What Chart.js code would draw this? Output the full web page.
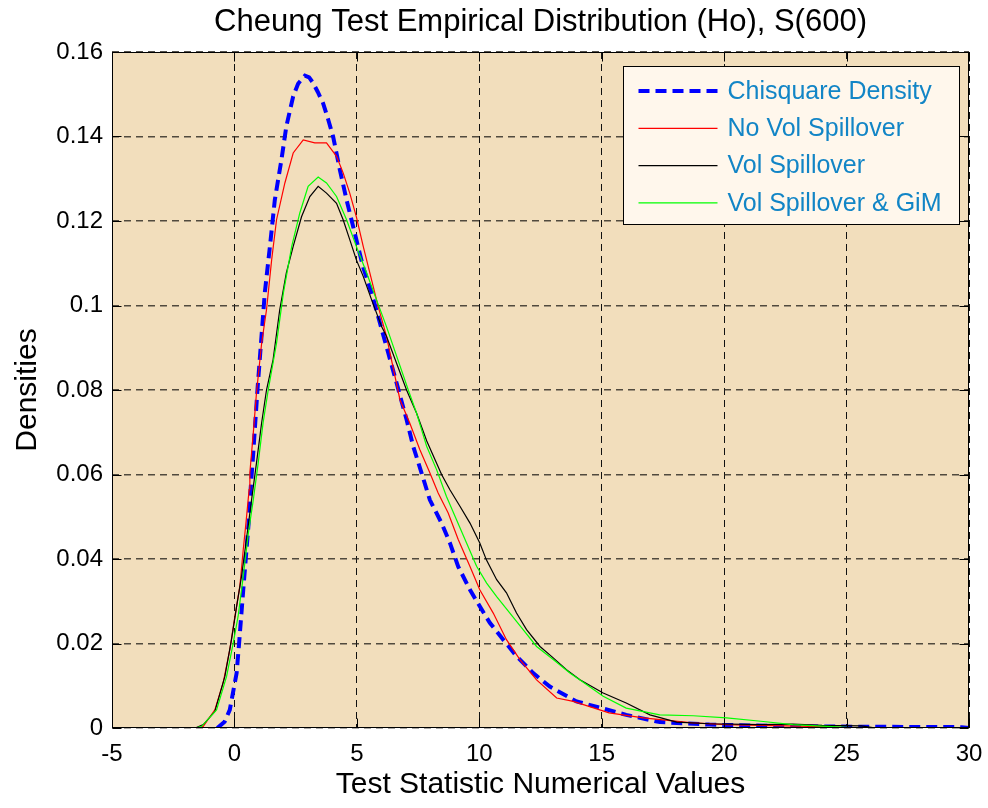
<!DOCTYPE html>
<html>
<head>
<meta charset="utf-8">
<title>Cheung Test Empirical Distribution</title>
<script src="https://cdn.jsdelivr.net/npm/chart.js@4.4.1/dist/chart.umd.min.js"></script>
<style>
  html, body { margin: 0; padding: 0; background: #fff; }
  #wrap { width: 988px; height: 808px; }
</style>
</head>
<body>
<div id="wrap"><canvas id="densityChart" width="988" height="808"></canvas></div>
<script>
// axis ticks
const xTicks = [-5, 0, 5, 10, 15, 20, 25, 30];
const yTicks = [0, 0.02, 0.04, 0.06, 0.08, 0.1, 0.12, 0.14, 0.16];

const seriesLabels = ['Chisquare Density', 'No Vol Spillover', 'Vol Spillover', 'Vol Spillover & GiM'];

// chi-square reference density
const chiX = [-0.7, -0.4, -0.19, 0.09, 0.19, 0.36, 0.49, 0.58, 0.66, 0.76, 0.85, 0.94, 1.24, 1.45, 1.65, 1.92, 2.12, 2.4, 2.6, 2.88, 3.05, 3.21, 3.4, 3.62, 3.82, 4.03, 4.31, 4.58, 4.92, 5.26, 5.6, 5.94, 6.28, 6.62, 7.03, 7.3, 7.64, 7.98, 8.46, 8.8, 9.14, 9.62, 10.02, 10.43, 10.98, 11.52, 12.2, 12.88, 13.97, 15.0, 16.0, 17.37, 19.4, 22.8, 26.0, 29.7, 30.0];
const chiY = [0, 0.0015, 0.0043, 0.013, 0.02, 0.0327, 0.042, 0.0485, 0.0564, 0.0643, 0.0722, 0.08, 0.103, 0.114, 0.125, 0.1345, 0.1424, 0.1495, 0.1525, 0.1544, 0.154, 0.1527, 0.1506, 0.1479, 0.1442, 0.14, 0.132, 0.125, 0.117, 0.109, 0.103, 0.0959, 0.0888, 0.0817, 0.073, 0.0667, 0.0604, 0.054, 0.0485, 0.0438, 0.0382, 0.0327, 0.0288, 0.0249, 0.0209, 0.017, 0.013, 0.0098, 0.0063, 0.0047, 0.0031, 0.0014, 0.0008, 0.0004, 0.0003, 0.0002, 0];

// no volatility spillover
const noSpillX = [-1.4, -1.27, -0.8, -0.46, -0.19, 0.02, 0.22, 0.36, 0.47, 0.6, 0.63, 0.77, 0.9, 1.11, 1.31, 1.52, 1.72, 2.06, 2.4, 2.81, 3.28, 3.76, 4.17, 4.44, 4.71, 4.98, 5.26, 5.53, 5.87, 6.21, 6.76, 7.16, 7.57, 7.98, 8.32, 8.73, 9.14, 9.62, 10.02, 10.57, 11.11, 11.66, 12.34, 13.16, 13.84, 15.3, 16.7, 18.7, 20.1, 21.5, 23.5, 25.5];
const noSpillY = [0, 0.0004, 0.0043, 0.0107, 0.0185, 0.0264, 0.0335, 0.0422, 0.0485, 0.0564, 0.0604, 0.0698, 0.0793, 0.091, 0.099, 0.1108, 0.1203, 0.129, 0.1361, 0.1392, 0.1385, 0.1385, 0.1353, 0.1314, 0.1266, 0.121, 0.114, 0.1077, 0.0998, 0.0927, 0.0777, 0.0722, 0.0659, 0.0604, 0.0556, 0.0509, 0.0446, 0.0382, 0.0327, 0.0272, 0.0209, 0.0162, 0.0114, 0.0071, 0.0063, 0.0036, 0.0024, 0.0012, 0.0008, 0.0006, 0.0004, 0];

// volatility spillover
const spillX = [-1.6, -1.27, -0.8, -0.39, -0.12, 0.09, 0.29, 0.49, 0.7, 0.9, 1.11, 1.31, 1.58, 1.85, 2.12, 2.4, 2.74, 3.08, 3.42, 3.76, 4.17, 4.44, 4.71, 4.98, 5.26, 5.6, 6.01, 6.21, 7.03, 7.44, 7.85, 8.46, 8.8, 9.21, 9.62, 10.02, 10.29, 10.71, 11.11, 11.52, 11.93, 12.48, 13.02, 13.56, 14.11, 15.06, 16.0, 16.97, 18.06, 19.4, 21.5, 22.8, 24.0, 25.6, 26.2];
const spillY = [0, 0.0008, 0.0039, 0.0122, 0.0209, 0.0288, 0.0359, 0.0446, 0.054, 0.0627, 0.0722, 0.08, 0.0872, 0.099, 0.1077, 0.114, 0.121, 0.1258, 0.1282, 0.1266, 0.1242, 0.1203, 0.1156, 0.1108, 0.1069, 0.1014, 0.095, 0.0927, 0.08, 0.0745, 0.068, 0.06, 0.0564, 0.0525, 0.0485, 0.0438, 0.0398, 0.0351, 0.032, 0.0272, 0.0233, 0.0193, 0.0166, 0.0138, 0.0114, 0.0083, 0.0059, 0.0031, 0.0014, 0.001, 0.0008, 0.0009, 0.0006, 0.0005, 0];

// volatility spillover & GiM
const gimX = [-1.6, -1.34, -0.73, -0.32, -0.05, 0.15, 0.36, 0.57, 0.77, 0.97, 1.17, 1.38, 1.72, 2.0, 2.34, 2.67, 3.01, 3.42, 3.76, 4.17, 4.58, 4.98, 5.4, 5.8, 6.21, 7.1, 7.44, 7.85, 8.26, 8.66, 9.07, 9.48, 9.89, 10.3, 10.71, 11.25, 11.79, 12.34, 13.02, 13.7, 14.1, 15.06, 16.0, 17.37, 18.74, 20.1, 21.5, 22.8, 24.8, 25.5];
const gimY = [0, 0.0004, 0.0043, 0.0122, 0.0201, 0.0264, 0.0359, 0.0462, 0.054, 0.0627, 0.0722, 0.08, 0.0911, 0.103, 0.114, 0.1219, 0.1282, 0.1304, 0.129, 0.1258, 0.1203, 0.114, 0.1077, 0.1014, 0.095, 0.08, 0.0745, 0.0667, 0.0611, 0.0548, 0.0493, 0.0438, 0.0383, 0.0343, 0.0311, 0.0272, 0.0233, 0.0193, 0.0162, 0.013, 0.0114, 0.0075, 0.0047, 0.0031, 0.0029, 0.0024, 0.0016, 0.0008, 0.0002, 0];

const pts = (xs, ys) => xs.map((x, i) => ({ x: x, y: ys[i] }));
const FONT = "'Liberation Sans', Arial, Helvetica, sans-serif";

// plot background, inner tick marks, frame and boxed legend
const framePlugin = {
  id: 'framePlugin',
  beforeDraw(chart) {
    const { ctx, chartArea: a } = chart;
    ctx.save();
    ctx.fillStyle = '#F2DEBC';
    ctx.fillRect(a.left, a.top, a.right - a.left, a.bottom - a.top);
    ctx.restore();
  },
  afterDraw(chart) {
    const { ctx, chartArea: a, scales } = chart;
    const L = Math.round(a.left) + 0.5, R = Math.round(a.right) - 0.5;
    const T = Math.round(a.top) + 0.5, B = Math.round(a.bottom) - 0.5;
    ctx.save();
    ctx.strokeStyle = '#000';
    ctx.lineWidth = 1;
    ctx.beginPath();
    xTicks.forEach(v => {
      const px = Math.round(scales.x.getPixelForValue(v)) + 0.5;
      ctx.moveTo(px, B); ctx.lineTo(px, B - 9);
      ctx.moveTo(px, T); ctx.lineTo(px, T + 9);
    });
    yTicks.forEach(v => {
      const py = Math.round(scales.y.getPixelForValue(v)) + 0.5;
      ctx.moveTo(L, py); ctx.lineTo(L + 9, py);
      ctx.moveTo(R, py); ctx.lineTo(R - 9, py);
    });
    ctx.stroke();
    ctx.strokeRect(L, T, R - L, B - T);

    // legend box
    const bx = Math.round(a.right) - 345.5, by = Math.round(a.top) + 14.5, bw = 336, bh = 158;
    ctx.fillStyle = '#FFF7EC';
    ctx.fillRect(bx, by, bw, bh);
    ctx.strokeRect(bx, by, bw, bh);
    ctx.font = '25px ' + FONT;
    ctx.textBaseline = 'middle';
    ctx.textAlign = 'left';
    chart.data.datasets.forEach((ds, i) => {
      const ry = by + 24.5 + i * 37.3;
      ctx.beginPath();
      ctx.strokeStyle = ds.borderColor;
      ctx.lineWidth = ds.borderWidth;
      ctx.setLineDash(ds.borderDash || []);
      ctx.moveTo(bx + 15, ry);
      ctx.lineTo(bx + 94, ry);
      ctx.stroke();
      ctx.setLineDash([]);
      ctx.fillStyle = '#1285C6';
      ctx.fillText(ds.label, bx + 104, ry + 1);
    });
    ctx.restore();
  }
};

new Chart(document.getElementById('densityChart'), {
  type: 'line',
  data: {
    datasets: [
      { label: seriesLabels[0], data: pts(chiX, chiY), borderColor: '#0000FF', borderWidth: 4, borderDash: [11, 6], order: 4 },
      { label: seriesLabels[1], data: pts(noSpillX, noSpillY), borderColor: '#FF0000', borderWidth: 1.2, order: 3 },
      { label: seriesLabels[2], data: pts(spillX, spillY), borderColor: '#000000', borderWidth: 1.2, order: 2 },
      { label: seriesLabels[3], data: pts(gimX, gimY), borderColor: '#00FF00', borderWidth: 1.2, order: 1 },
    ],
  },
  options: {
    responsive: false,
    animation: false,
    layout: { padding: { top: 0, right: 19, bottom: 0, left: 0 } },
    elements: { point: { radius: 0 }, line: { tension: 0, fill: false } },
    plugins: {
      legend: { display: false },
      tooltip: { enabled: false },
      title: {
        display: true,
        fullSize: false,
        text: 'Cheung Test Empirical Distribution (Ho), S(600)',
        color: '#000',
        font: { family: FONT, size: 31, weight: 'normal', lineHeight: 1.2 },
        padding: { top: 4, bottom: 10.8 },
      },
    },
    scales: {
      x: {
        type: 'linear',
        min: -5,
        max: 30,
        afterFit(s) { s.height = 80; s.paddingLeft = 0; s.paddingRight = 0; },
        afterBuildTicks(s) { s.ticks = xTicks.map(v => ({ value: v })); },
        grid: { color: '#111', lineWidth: 1, drawTicks: false },
        border: { display: false, dash: [7, 5] },
        ticks: { color: '#000', font: { family: FONT, size: 24 }, padding: 12, maxRotation: 0, callback: v => String(v) },
        title: { display: true, text: 'Test Statistic Numerical Values', color: '#000', font: { family: FONT, size: 30 }, padding: { top: 0, bottom: 5 } },
      },
      y: {
        type: 'linear',
        min: 0,
        max: 0.16,
        afterFit(s) { s.width = 112; },
        afterBuildTicks(s) { s.ticks = yTicks.map(v => ({ value: v })); },
        grid: { color: 'rgba(40,36,30,0.8)', lineWidth: 1.4, drawTicks: false },
        border: { display: false, dash: [7, 5] },
        ticks: { color: '#000', font: { family: FONT, size: 24 }, padding: 9, callback: v => String(Number(v.toFixed(2))) },
        title: { display: true, text: 'Densities', color: '#000', font: { family: FONT, size: 30 }, padding: { top: 10, bottom: 0 } },
      },
    },
  },
  plugins: [framePlugin],
});
</script>
</body>
</html>
